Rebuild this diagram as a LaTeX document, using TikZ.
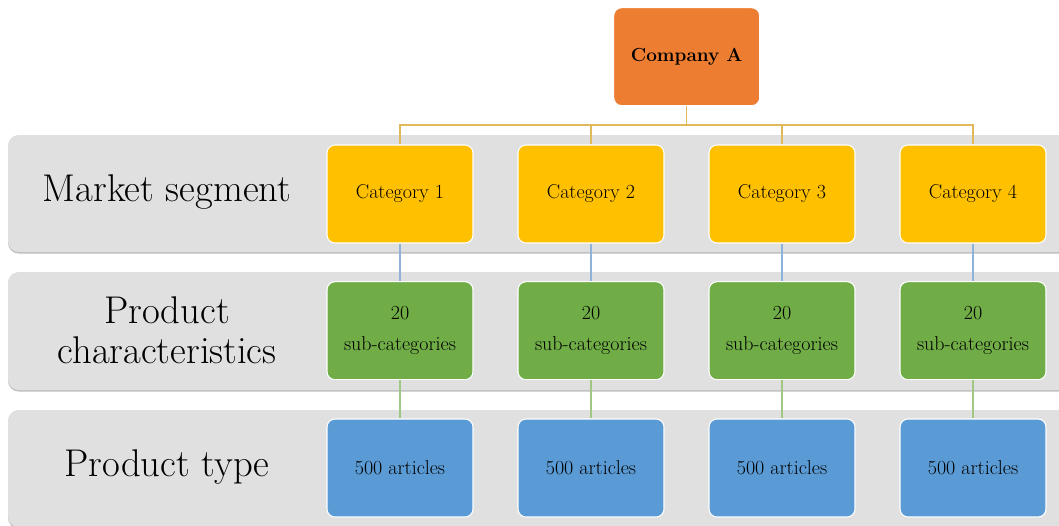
\documentclass[tikz,border=0pt]{standalone}
\usepackage{tikz}
\definecolor{bandgray}{RGB}{224,224,224}
\definecolor{bandshade}{RGB}{190,190,190}
\definecolor{orangebox}{RGB}{237,125,49}
\definecolor{yellowbox}{RGB}{255,192,0}
\definecolor{greenbox}{RGB}{112,173,71}
\definecolor{bluebox}{RGB}{91,155,213}
\definecolor{treeline}{RGB}{226,184,90}
\definecolor{blueline}{RGB}{141,179,219}
\definecolor{greenline}{RGB}{160,200,130}
\tikzset{
  box/.style={draw=white, line width=0.8pt, rounded corners=6pt,
    minimum width=109.5pt, minimum height=73.5pt, inner sep=2pt,
    align=center, font=\fontsize{15}{23}\selectfont},
  catbox/.style={box, fill=yellowbox},
  subbox/.style={box, fill=greenbox},
  artbox/.style={box, fill=bluebox},
  topbox/.style={box, fill=orangebox, font=\fontsize{14.2}{17}\selectfont\bfseries},
  band/.style={fill=bandgray, rounded corners=8pt},
  bandshadow/.style={fill=bandshade, rounded corners=8pt},
  rowlabel/.style={align=center, font=\fontsize{29}{30}\selectfont},
  tree/.style={draw=treeline, line width=0.9pt},
  link1/.style={draw=blueline, line width=0.9pt},
  link2/.style={draw=greenline, line width=0.9pt}
}
\begin{document}
\begin{tikzpicture}[x=0.75pt,y=-0.75pt]
\useasboundingbox (0,0) rectangle (1059,525);
\clip (0,0) rectangle (1059,525);

% gray row bands with a faint lower edge
\foreach \t/\b in {135/252, 272/390, 410/527} {
  \path[bandshadow] (8,\t+1.5) rectangle (1080,\b+1.5);
  \path[band] (8,\t) rectangle (1080,\b);
}

% row labels
\node[rowlabel] (lab1) at (167,192) {Market segment};
\node[rowlabel] (lab2) at (167,330) {Product\\characteristics};
\node[rowlabel] (lab3) at (167,467) {Product type};

% top node
\node[topbox] (company) at (686.7,56.7) {Company A};

% three tiers of boxes
\foreach \i/\x in {1/400, 2/591, 3/782, 4/973} {
  \node[catbox] (cat\i) at (\x,194) {Category \i};
  \node[subbox] (sub\i) at (\x,330.7) {20\\sub-categories};
  \node[artbox] (art\i) at (\x,468) {500 articles};
}

% tree connectors
\coordinate (bus) at (686.7,125);
\draw[tree] (company.south) -- (company.south |- bus);
\draw[tree] (cat1.north) -- (cat1.north |- bus) -- (cat4.north |- bus) -- (cat4.north);
\draw[tree] (cat2.north |- bus) -- (cat2.north);
\draw[tree] (cat3.north |- bus) -- (cat3.north);

\foreach \i in {1,...,4} {
  \draw[link1] (cat\i.south) -- (sub\i.north);
  \draw[link2] (sub\i.south) -- (art\i.north);
}
\end{tikzpicture}
\end{document}
